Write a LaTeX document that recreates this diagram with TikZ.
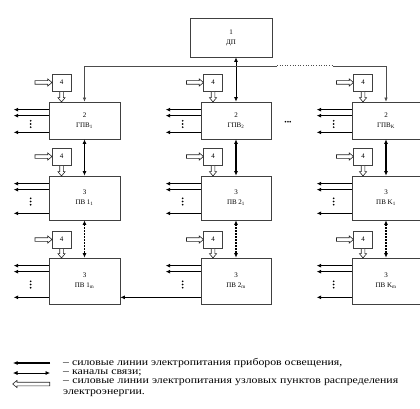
\documentclass[tikz,border=0pt]{standalone}
\usepackage{fontspec}
\setmainfont{Liberation Serif}
\newfontfamily\legendfont[FakeStretch=1.18]{Liberation Serif}
\usetikzlibrary{arrows.meta,positioning,calc,shapes.arrows}

\begin{document}
\begin{tikzpicture}[x=1pt, y=-1pt,
    unit/.style={draw=black!75, line width=0.7pt, align=center, inner sep=0pt, font=\fontsize{7}{10}\selectfont},
    relay/.style={draw=black!75, line width=0.6pt, minimum width=19pt, minimum height=17pt, inner sep=0pt, font=\fontsize{7}{8}\selectfont},
    lamp/.style={-{Latex[length=4.5pt,width=4pt]}, line width=1.4pt},
    chan/.style={{Latex[length=4.5pt,width=4pt]}-{Latex[length=4.5pt,width=4pt]}, line width=1.1pt},
    hollow/.style={single arrow, draw=black!85, line width=0.6pt, fill=white, inner sep=1.5pt,
      single arrow head extend=1.8pt, single arrow head indent=0pt, single arrow tip angle=80},
    feed/.style={to path={let \p1=($(\tikztotarget)-(\tikztostart)$),
      \n1={atan2(\y1,\x1)}, \n2={veclen(\x1,\y1)} in
      node[hollow, minimum height=\n2, rotate=\n1, anchor=tail] at (\tikztostart) {}}},
    bus/.style={line width=0.6pt, draw=black!70},
    legend/.style={anchor=west, align=left, inner sep=0pt, font=\legendfont\fontsize{10}{10.5}\selectfont}
]
\useasboundingbox (0,0) rectangle (420,409);

% dispatcher
\node[unit, minimum width=82pt, minimum height=39pt] (dp) at (231,37.5) {1\\ДП};

% three columns of units
\foreach \c/\x/\w/\k in {1/84.5/71/1, 2/236/70/2, 3/386/68/K} {
  \node[unit, minimum width=\w pt, minimum height=37pt] (g\c) at (\x,120.5) {2\\ГПВ\textsubscript{\k}};
  \node[unit, minimum width=\w pt, minimum height=44pt] (p\c) at (\x,198) {3\\ПВ \k\textsubscript{1}};
  \node[unit, minimum width=\w pt, minimum height=46pt] (q\c) at (\x,281) {3\\ПВ \k\textsubscript{m}};
  \draw[chan] (g\c) -- (p\c);
  \draw[chan, dash pattern=on 1.5pt off 1.5pt] (p\c) -- (q\c);
}

% feeding points 4
\foreach \c/\x in {1/84.5, 2/236, 3/386}
  \foreach \r/\y/\m in {1/82.5/g, 2/156.5/p, 3/239.5/q} {
    \node[relay] (r\c\r) at (\x-23,\y) {4};
    \coordinate[left=17pt of r\c\r] (s\c\r);
    \path (s\c\r) to[feed] (r\c\r.west);
    \path (r\c\r.south) to[feed] (r\c\r.south |- \m\c.north);
  }

% lighting lines
\foreach \b in {g1,g2,g3,p1,p2,p3,q1,q2,q3} {
  \coordinate (a\b) at ([yshift=-8pt]\b.north west);
  \coordinate (b\b) at ([yshift=-14pt]\b.north west);
  \coordinate (c\b) at ([yshift=7pt]\b.south west);
  \coordinate (ea\b) at ([xshift=-35pt]a\b);
  \coordinate (eb\b) at ([xshift=-35pt]b\b);
  \draw[lamp] (a\b) -- (ea\b);
  \draw[lamp] (b\b) -- (eb\b);
  \coordinate (v\b) at ($(b\b)!0.5!(c\b)+(-18,0)$);
  \foreach \d in {-3.2,0,3.2}
    \fill ([yshift=\d pt]v\b) circle (0.95pt);
}
\foreach \b in {g1,g2,g3,p1,p2,p3,q1,q3} {
  \coordinate (ec\b) at ([xshift=-35pt]c\b);
  \draw[lamp] (c\b) -- (ec\b);
}
\draw[lamp] (cq2) -- (cq2 -| q1.east);

\node[font=\fontsize{7}{7}\selectfont, inner sep=0pt] (etc) at (288,123) {\textbullet\textbullet\textbullet};

% bus from dispatcher
\coordinate (bj) at (g2.north |- 0,66);
\coordinate (bd1) at (277,66);
\coordinate (bd2) at (333,66);
\draw[chan, line width=0.8pt] (dp.south -| g2.north) -- (g2.north);
\draw[bus, -{Latex[length=4pt,width=3.5pt]}] (bj) -| (g1.north);
\draw[bus] (bj) -- (bd1);
\draw[bus, dotted, line width=1pt] (bd1) -- (bd2);
\draw[bus, -{Latex[length=4pt,width=3.5pt]}] (bd2) -| (g3.north);

% legend
\coordinate (la1) at (13,363); \coordinate (lb1) at (50,363);
\coordinate (la2) at (13,373); \coordinate (lb2) at (50,373);
\coordinate (la3) at (13,384); \coordinate (lb3) at (50,384);
\draw[lamp] (lb1) -- (la1);
\draw[chan, line width=0.7pt] (la2) -- (lb2);
\path (lb3) to[feed] (la3);
\node[legend] (t1) at (63,363) {– силовые линии электропитания приборов освещения,};
\node[legend] (t2) at (63,373) {– каналы связи;};
\node[legend, anchor=north west] (t3) at (63,379) {\makebox[335pt][s]{– силовые линии электропитания узловых пунктов распределения}\\электроэнергии.};
\end{tikzpicture}
\end{document}
